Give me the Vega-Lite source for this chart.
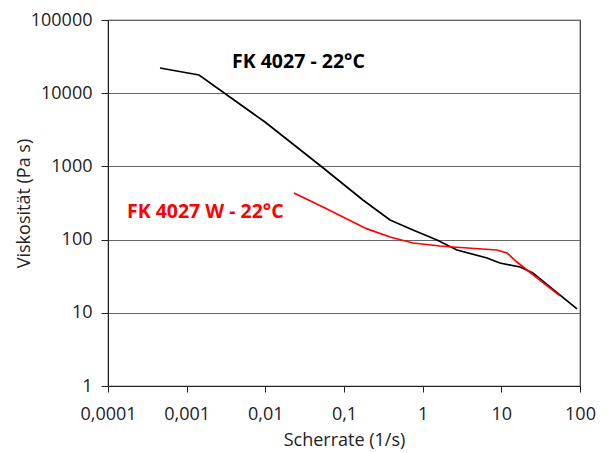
{
  "$schema": "https://vega.github.io/schema/vega-lite/v6.json",
  "width": 472,
  "height": 366,
  "autosize": {"type": "none"},
  "padding": {"left": 108, "top": 20, "right": 30, "bottom": 67},
  "background": "white",
  "config": {
    "font": "Open Sans",
    "view": {"stroke": "#333", "strokeWidth": 1.2}
  },
  "datasets": {
    "curves": [
      {"series": "FK 4027", "x": 0.000458, "y": 22100},
      {"series": "FK 4027", "x": 0.001436, "y": 17740},
      {"series": "FK 4027", "x": 0.0099, "y": 4040},
      {"series": "FK 4027", "x": 0.0525, "y": 982},
      {"series": "FK 4027", "x": 0.174, "y": 348},
      {"series": "FK 4027", "x": 0.385, "y": 185},
      {"series": "FK 4027", "x": 0.753, "y": 135},
      {"series": "FK 4027", "x": 1.52, "y": 98.8},
      {"series": "FK 4027", "x": 2.73, "y": 72.1},
      {"series": "FK 4027", "x": 6.57, "y": 56.1},
      {"series": "FK 4027", "x": 9.6, "y": 47.9},
      {"series": "FK 4027", "x": 17.3, "y": 42.2},
      {"series": "FK 4027", "x": 25.2, "y": 35.0},
      {"series": "FK 4027", "x": 91.6, "y": 11.3},
      {"series": "FK 4027 W", "x": 0.0231, "y": 433},
      {"series": "FK 4027 W", "x": 0.054, "y": 279},
      {"series": "FK 4027 W", "x": 0.13, "y": 174},
      {"series": "FK 4027 W", "x": 0.196, "y": 140},
      {"series": "FK 4027 W", "x": 0.385, "y": 108.6},
      {"series": "FK 4027 W", "x": 0.753, "y": 89.9},
      {"series": "FK 4027 W", "x": 1.66, "y": 81.8},
      {"series": "FK 4027 W", "x": 2.43, "y": 79.2},
      {"series": "FK 4027 W", "x": 8.8, "y": 72.1},
      {"series": "FK 4027 W", "x": 11.8, "y": 65.6},
      {"series": "FK 4027 W", "x": 15.8, "y": 49.4},
      {"series": "FK 4027 W", "x": 21.2, "y": 38.4},
      {"series": "FK 4027 W", "x": 55.7, "y": 17.0}
    ],
    "labels": [
      {"series": "FK 4027", "x": 0.00377, "y": 26700, "text": "FK 4027 - 22°C"},
      {"series": "FK 4027 W", "x": 0.000174, "y": 238, "text": "FK 4027 W - 22°C"}
    ]
  },
  "layer": [
    {
      "data": {"name": "curves"},
      "mark": {"type": "line", "strokeWidth": 1.7, "clip": true},
      "encoding": {
        "x": {
          "field": "x", "type": "quantitative",
          "scale": {"type": "log", "domain": [0.0001, 100]},
          "axis": {
            "title": "Scherrate (1/s)",
            "values": [0.0001, 0.001, 0.01, 0.1, 1, 10, 100],
            "labelExpr": "replace(format(datum.value, '~g'), '.', ',')",
            "labelFlush": false,
            "labelOverlap": false,
            "grid": false,
            "domainColor": "#222",
            "tickColor": "#222",
            "tickSize": 6,
            "labelFontSize": 18,
            "labelColor": "#222",
            "labelPadding": 13,
            "titleFontSize": 18,
            "titleFontWeight": "normal",
            "titleColor": "#222",
            "titleBaseline": "middle",
            "titleY": 54
          }
        },
        "y": {
          "field": "y", "type": "quantitative",
          "scale": {"type": "log", "domain": [1, 100000]},
          "axis": {
            "title": "Viskosität (Pa s)",
            "values": [1, 10, 100, 1000, 10000, 100000],
            "format": "d",
            "labelFlush": false,
            "labelOverlap": false,
            "grid": true,
            "gridColor": "#666",
            "gridWidth": 1,
            "domainColor": "#222",
            "tickColor": "#222",
            "tickSize": 7,
            "labelFontSize": 18,
            "labelColor": "#222",
            "labelPadding": 9,
            "titleFontSize": 18,
            "titleFontWeight": "normal",
            "titleColor": "#222",
            "titleBaseline": "middle",
            "titleX": -84,
            "titleY": 183
          }
        },
        "color": {
          "field": "series", "type": "nominal",
          "scale": {"domain": ["FK 4027", "FK 4027 W"], "range": ["#000000", "#ff0000"]},
          "legend": null
        }
      }
    },
    {
      "data": {"name": "labels"},
      "mark": {"type": "text", "align": "left", "baseline": "middle", "fontSize": 19.5, "fontWeight": "bold"},
      "encoding": {
        "x": {"field": "x", "type": "quantitative", "scale": {"type": "log"}},
        "y": {"field": "y", "type": "quantitative", "scale": {"type": "log"}},
        "text": {"field": "text"},
        "color": {"field": "series", "type": "nominal", "legend": null}
      }
    }
  ]
}
